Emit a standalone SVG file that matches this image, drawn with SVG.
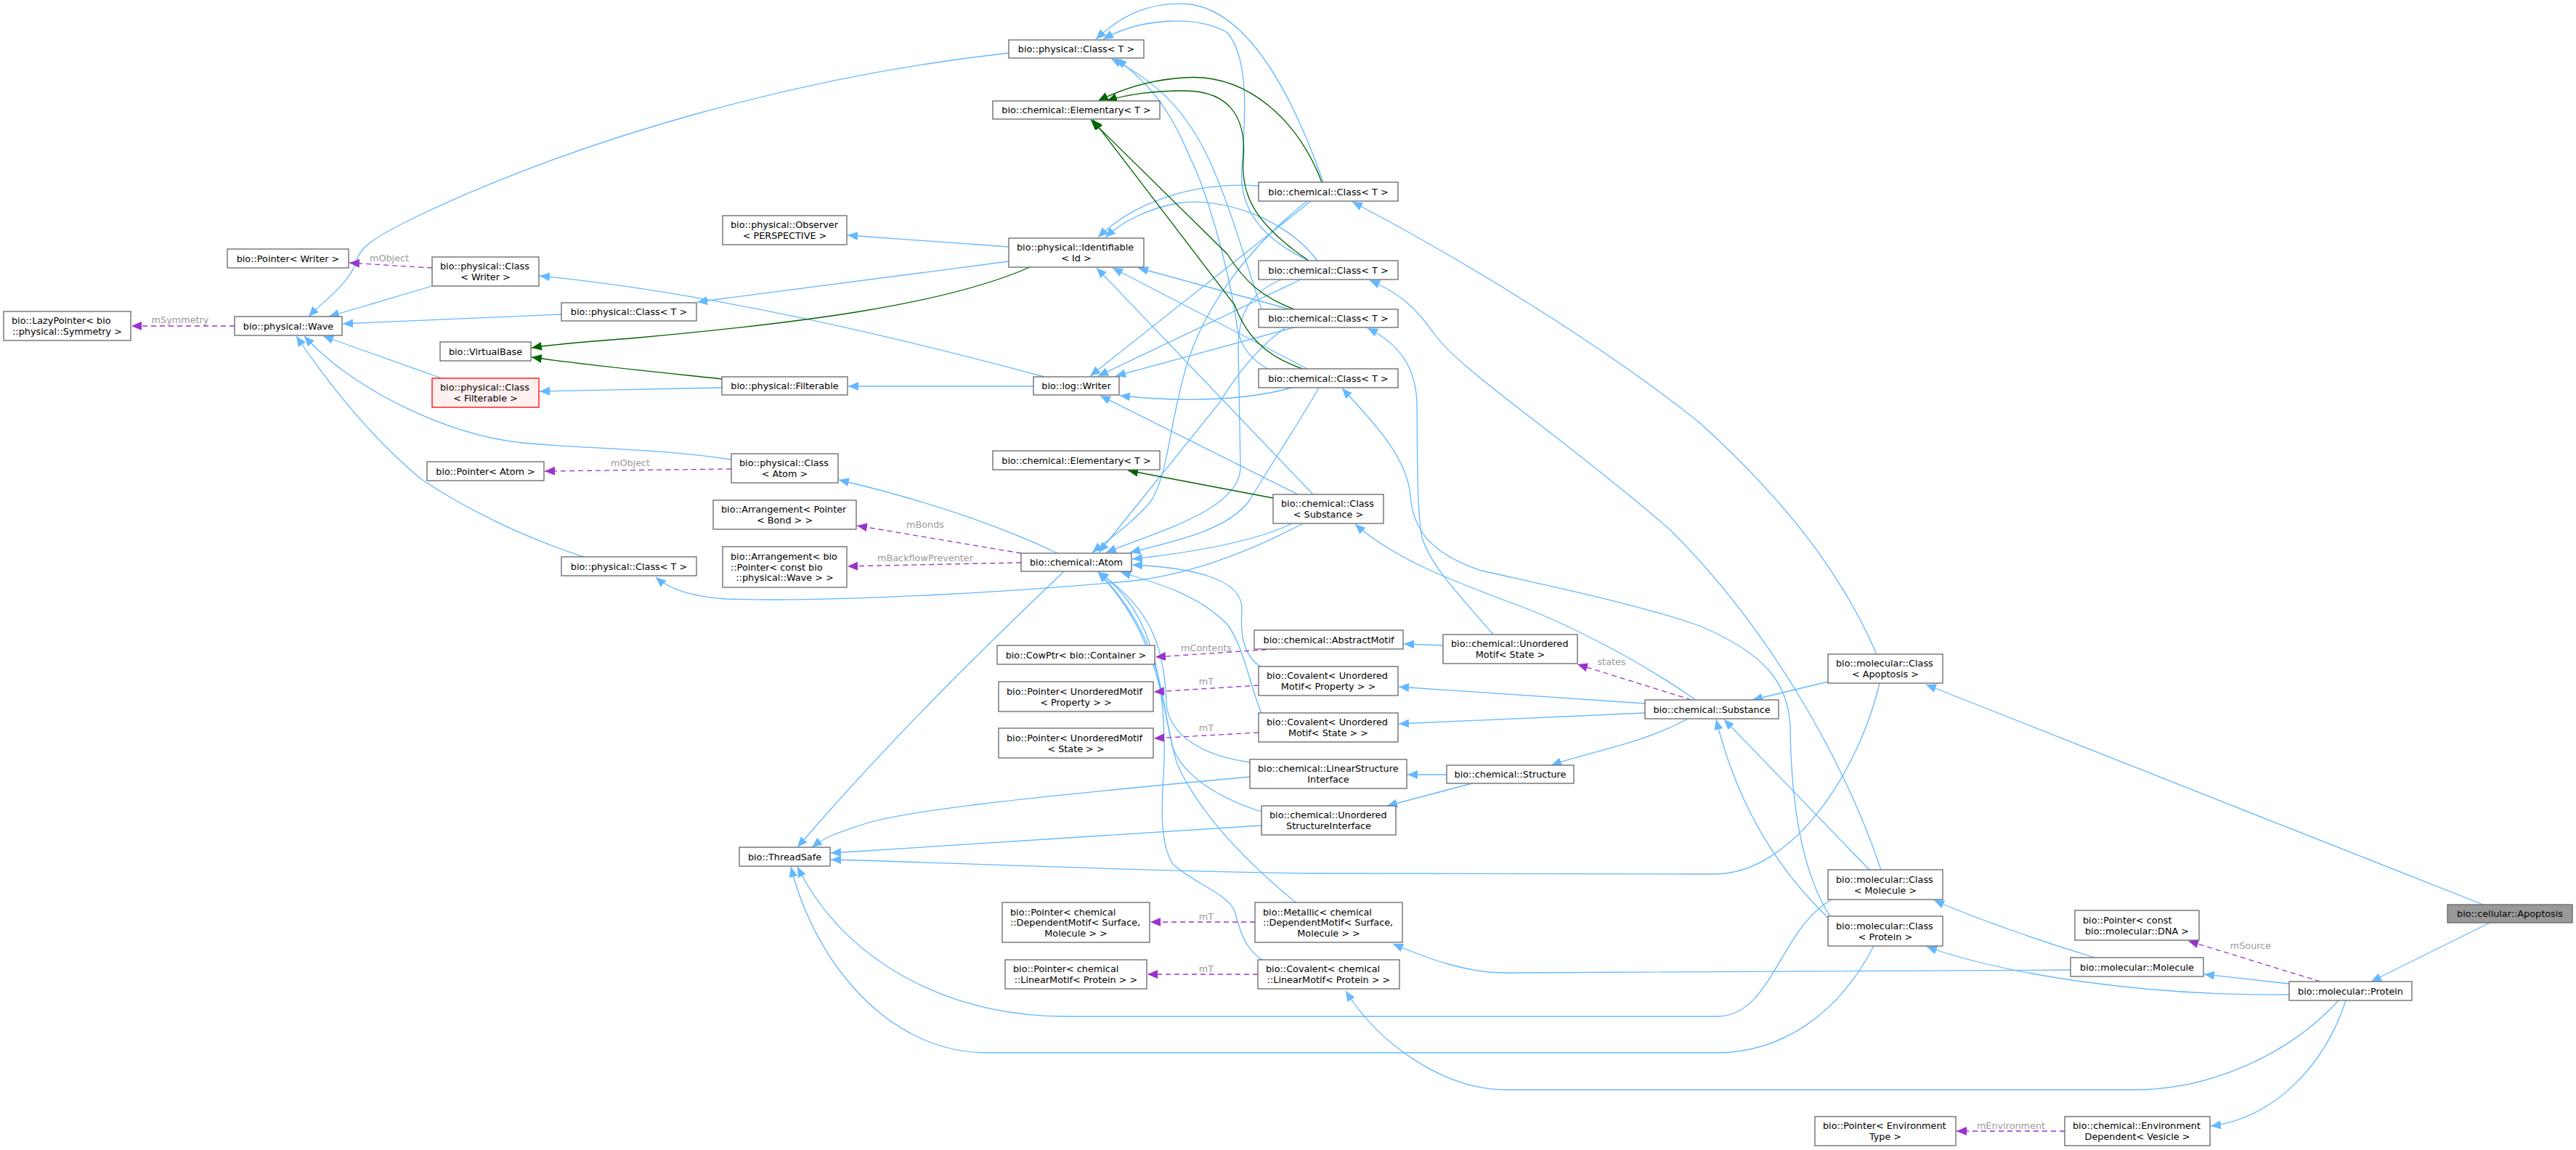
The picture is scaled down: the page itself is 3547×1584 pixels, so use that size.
<svg xmlns="http://www.w3.org/2000/svg" width="3547" height="1584" viewBox="0 0 3547 1584">
<style>
.n{fill:#fff;stroke:#666;stroke-width:1.3}
.r{fill:#fff0f0;stroke:#f00;stroke-width:1.3}
.g{fill:#999;stroke:#666;stroke-width:1.3}
text{font-family:"DejaVu Sans",sans-serif;font-size:12.8px;fill:#000}
.m{text-anchor:middle}
.s{text-anchor:start}
.eb{fill:none;stroke:#63b8ff;stroke-width:1.3;marker-end:url(#ab)}
.eg{fill:none;stroke:#006400;stroke-width:1.3;marker-end:url(#ag)}
.ep{fill:none;stroke:#9a32cd;stroke-width:1.3;stroke-dasharray:7,5;marker-end:url(#ap)}
.l{fill:#9a9a9a;text-anchor:middle}
</style>
<defs>
<marker id="ab" markerUnits="userSpaceOnUse" markerWidth="16" markerHeight="14" refX="14" refY="6" orient="auto"><path d="M0,0 L14,6 L0,12 z" fill="#63b8ff"/></marker>
<marker id="ag" markerUnits="userSpaceOnUse" markerWidth="16" markerHeight="14" refX="14" refY="6" orient="auto"><path d="M0,0 L14,6 L0,12 z" fill="#006400"/></marker>
<marker id="ap" markerUnits="userSpaceOnUse" markerWidth="16" markerHeight="14" refX="14" refY="6" orient="auto"><path d="M0,0 L14,6 L0,12 z" fill="#9a32cd"/></marker>
</defs>
<rect width="3547" height="1584" fill="#fff"/>
<g id="edges">
<path class="eb" d="M3419,1246 L2652,943"/>
<path class="eb" d="M3428,1271 L3265,1352"/>
<path class="eb" d="M3152,1355 L3035,1342"/>
<path class="eb" d="M3152,1370 C2950,1372 2760,1342 2653,1304"/>
<path class="eb" d="M2885,1319 C2820,1300 2720,1265 2663,1240"/>
<path class="eb" d="M2851,1336 L2074,1340 C2020,1340 1970,1322 1918,1300"/>
<path class="eb" d="M3220,1378 C3150,1455 3040,1501 2940,1501 L2074,1501 C1990,1501 1900,1440 1853,1365"/>
<path class="eb" d="M3230,1378 C3200,1470 3130,1540 3044,1551"/>
<path class="eb" d="M2580,1303 C2530,1400 2450,1450 2364,1450 L1359,1450 C1220,1450 1120,1320 1089,1194"/>
<path class="eb" d="M2522,1239 C2450,1280 2440,1400 2364,1400 L1468,1400 C1300,1400 1160,1320 1098,1194"/>
<path class="eb" d="M2588,941 C2560,1060 2470,1204 2360,1204 L1800,1203 C1500,1198 1250,1186 1144,1184"/>
<path class="eb" d="M2517,939 L2413,964"/>
<path class="eb" d="M2574,1198 L2374,991"/>
<path class="eb" d="M2517,1264 C2440,1190 2390,1100 2363,991"/>
<path class="eb" d="M2335,964 C2250,905 2150,855 2080,830 C2000,800 1920,770 1866,722"/>
<path class="eb" d="M2265,969 L1926,946"/>
<path class="eb" d="M2265,982 L1926,997"/>
<path class="eb" d="M2324,990 C2260,1025 2190,1035 2136,1054"/>
<path class="eb" d="M1992,1067 L1938,1067"/>
<path class="eb" d="M2027,1079 L1910,1110"/>
<path class="eb" d="M1987,889 L1933,887"/>
<path class="eb" d="M2056,874 C2010,820 1970,780 1958,740 C1950,700 1952,600 1951,556 C1950,510 1930,475 1883,452"/>
<path class="eb" d="M2584,901 C2540,800 2470,700 2340,582 C2200,470 2000,350 1862,278"/>
<path class="eb" d="M2590,1198 C2540,1050 2440,870 2300,730 C2150,600 2010,510 1975,460 C1950,425 1930,405 1886,386"/>
<path class="eb" d="M2520,1262 C2480,1200 2466,1100 2465,1000 C2462,940 2430,900 2340,862 C2250,830 2100,800 2040,786 C1960,760 1945,720 1942,683 C1938,630 1890,580 1848,535"/>
<path class="eb" d="M1822,251 C1790,160 1730,20 1640,6 C1580,0 1540,25 1509,54"/>
<path class="eb" d="M1802,359 C1740,330 1705,290 1710,230 C1715,160 1720,80 1690,45 C1650,20 1570,25 1519,54"/>
<path class="eb" d="M1737,426 C1715,360 1690,270 1660,210 C1630,150 1590,110 1530,81"/>
<path class="eb" d="M1745,508 C1715,490 1705,470 1702,440 C1690,360 1660,260 1640,220 C1615,160 1590,120 1537,81"/>
<path class="eb" d="M1733,256 C1640,250 1560,280 1512,327"/>
<path class="eb" d="M1814,359 C1770,300 1680,270 1620,280 C1580,288 1545,305 1522,327"/>
<path class="eb" d="M1776,426 L1567,369"/>
<path class="eb" d="M1800,508 L1532,369"/>
<path class="eb" d="M1808,681 L1510,369"/>
<path class="eb" d="M1805,277 L1501,518"/>
<path class="eb" d="M1791,385 L1512,518"/>
<path class="eb" d="M1782,451 L1536,518"/>
<path class="eb" d="M1779,534 C1720,550 1640,555 1542,545"/>
<path class="eb" d="M1787,681 L1515,545"/>
<path class="eb" d="M1800,277 C1720,340 1660,420 1635,500 C1610,580 1610,650 1585,690 C1560,720 1530,740 1504,761"/>
<path class="eb" d="M1770,451 C1730,480 1700,520 1679,555 L1513,761"/>
<path class="eb" d="M1765,385 C1715,405 1705,440 1705,480 L1708,640 C1712,700 1600,730 1523,761"/>
<path class="eb" d="M1816,534 C1790,580 1750,640 1720,690 C1690,730 1620,745 1556,761"/>
<path class="eb" d="M1779,721 C1730,745 1650,760 1559,770"/>
<path class="eb" d="M1794,721 C1740,750 1650,790 1560,800 C1400,815 1150,830 1000,825 C950,822 920,810 903,795"/>
<path class="eb" d="M1735,918 C1710,900 1708,870 1710,840 C1712,800 1650,782 1559,778"/>
<path class="eb" d="M1737,983 C1720,940 1712,890 1690,860 C1650,820 1600,805 1543,788"/>
<path class="eb" d="M1721,1050 C1650,1040 1610,1010 1606,970 C1604,900 1590,840 1512,788"/>
<path class="eb" d="M1737,1118 C1680,1100 1630,1070 1615,1030 C1600,980 1605,880 1512,788"/>
<path class="eb" d="M1784,1243 C1720,1190 1650,1120 1620,1050 C1600,980 1600,880 1512,788"/>
<path class="eb" d="M1738,1322 C1710,1305 1705,1270 1700,1255 C1690,1230 1640,1215 1615,1190 C1595,1160 1600,1100 1603,1050 C1605,950 1590,840 1512,788"/>
<path class="eb" d="M1456,762 C1400,735 1300,695 1155,661"/>
<path class="eb" d="M1465,787 C1400,850 1250,990 1098,1167"/>
<path class="eb" d="M1007,633 C900,617 800,618 720,610 C620,600 490,540 419,463"/>
<path class="eb" d="M608,521 L445,463"/>
<path class="eb" d="M804,767 C720,740 640,700 580,660 C520,610 460,540 408,463"/>
<path class="eb" d="M595,394 L453,436"/>
<path class="eb" d="M773,433 L472,446"/>
<path class="eb" d="M1389,73 C1100,105 800,190 570,300 C510,330 495,340 488,367 C475,395 445,415 425,436"/>
<path class="eb" d="M1389,340 L1167,324"/>
<path class="eb" d="M1389,360 L960,416"/>
<path class="eb" d="M1423,532 L1168,532"/>
<path class="eb" d="M1438,519 C1200,455 950,400 743,380"/>
<path class="eb" d="M994,534 L743,539"/>
<path class="eb" d="M1721,1070 C1450,1095 1250,1115 1190,1135 C1160,1145 1140,1150 1118,1167"/>
<path class="eb" d="M1737,1137 L1144,1175"/>
<path class="eg" d="M1820,251 C1790,170 1720,100 1630,107 C1580,110 1540,125 1512,139"/>
<path class="eg" d="M1802,359 C1730,310 1708,270 1712,220 C1716,170 1700,125 1630,125 C1590,125 1550,130 1524,139"/>
<path class="eg" d="M1782,426 C1740,410 1715,390 1690,350 L1502,165"/>
<path class="eg" d="M1794,508 C1740,490 1715,460 1700,420 L1505,165"/>
<path class="eg" d="M1753,686 L1553,648"/>
<path class="eg" d="M1418,368 C1300,420 1100,445 880,465 C820,470 770,473 732,479"/>
<path class="eg" d="M994,522 C900,512 800,502 732,492"/>
<path class="ep" d="M323,449 L181,449"/>
<path class="ep" d="M595,369 L481,362"/>
<path class="ep" d="M1007,646 L750,649"/>
<path class="ep" d="M1406,762 L1180,724"/>
<path class="ep" d="M1406,775 L1167,780"/>
<path class="ep" d="M1756,894 L1591,905"/>
<path class="ep" d="M1733,944 L1589,953"/>
<path class="ep" d="M1733,1009 L1589,1017"/>
<path class="ep" d="M1728,1270 L1584,1270"/>
<path class="ep" d="M1732,1342 L1580,1342"/>
<path class="ep" d="M2329,964 L2172,915"/>
<path class="ep" d="M3195,1352 L3013,1296"/>
<path class="ep" d="M2843,1558 L2694,1558"/>
<text class="l" x="248" y="445">mSymmetry</text>
<text class="l" x="536" y="360">mObject</text>
<text class="l" x="868" y="642">mObject</text>
<text class="l" x="1274" y="727">mBonds</text>
<text class="l" x="1274" y="773">mBackflowPreventer</text>
<text class="l" x="1661" y="897">mContents</text>
<text class="l" x="1661" y="943">mT</text>
<text class="l" x="1661" y="1007">mT</text>
<text class="l" x="1661" y="1267">mT</text>
<text class="l" x="1661" y="1339">mT</text>
<text class="l" x="2219" y="916">states</text>
<text class="l" x="3099" y="1307">mSource</text>
<text class="l" x="2769" y="1555">mEnvironment</text>
</g>
<g id="n_apoptosis"><rect class="g" x="3370" y="1246" width="172" height="25"/><text class="m" x="3456" y="1263">bio::cellular::Apoptosis</text></g>
<g id="n_mclass_apoptosis"><rect class="n" x="2517" y="901" width="158" height="40"/><text class="s" x="2528" y="918">bio::molecular::Class</text><text class="m" x="2596" y="933">&lt; Apoptosis &gt;</text></g>
<g id="n_protein"><rect class="n" x="3152" y="1352" width="169" height="26"/><text class="m" x="3236.5" y="1369.5">bio::molecular::Protein</text></g>
<g id="n_mclass_molecule"><rect class="n" x="2517" y="1198" width="158" height="41"/><text class="s" x="2528" y="1215.5">bio::molecular::Class</text><text class="m" x="2596" y="1230.5">&lt; Molecule &gt;</text></g>
<g id="n_mclass_protein"><rect class="n" x="2517" y="1262" width="158" height="41"/><text class="s" x="2528" y="1279.5">bio::molecular::Class</text><text class="m" x="2596" y="1294.5">&lt; Protein &gt;</text></g>
<g id="n_molecule"><rect class="n" x="2851" y="1319" width="183" height="26"/><text class="m" x="2942.5" y="1336.5">bio::molecular::Molecule</text></g>
<g id="n_ptr_dna"><rect class="n" x="2857" y="1254" width="171" height="41"/><text class="s" x="2868" y="1271.5">bio::Pointer&lt; const</text><text class="m" x="2942.5" y="1286.5">bio::molecular::DNA &gt;</text></g>
<g id="n_envdep"><rect class="n" x="2843" y="1538" width="200" height="40"/><text class="s" x="2854" y="1555">bio::chemical::Environment</text><text class="m" x="2943" y="1570">Dependent&lt; Vesicle &gt;</text></g>
<g id="n_ptr_env"><rect class="n" x="2499" y="1538" width="194" height="40"/><text class="s" x="2510" y="1555">bio::Pointer&lt; Environment</text><text class="m" x="2596" y="1570">Type &gt;</text></g>
<g id="n_substance"><rect class="n" x="2265" y="964" width="184" height="26"/><text class="m" x="2357" y="981.5">bio::chemical::Substance</text></g>
<g id="n_umotif_state"><rect class="n" x="1987" y="874" width="185" height="40"/><text class="s" x="1998" y="891">bio::chemical::Unordered</text><text class="m" x="2079.5" y="906">Motif&lt; State &gt;</text></g>
<g id="n_structure"><rect class="n" x="1992" y="1054" width="175" height="25"/><text class="m" x="2079.5" y="1071">bio::chemical::Structure</text></g>
<g id="n_cclass1"><rect class="n" x="1733" y="251" width="192" height="26"/><text class="m" x="1829" y="268.5">bio::chemical::Class&lt; T &gt;</text></g>
<g id="n_cclass2"><rect class="n" x="1733" y="359" width="192" height="26"/><text class="m" x="1829" y="376.5">bio::chemical::Class&lt; T &gt;</text></g>
<g id="n_cclass3"><rect class="n" x="1733" y="426" width="192" height="25"/><text class="m" x="1829" y="443">bio::chemical::Class&lt; T &gt;</text></g>
<g id="n_cclass4"><rect class="n" x="1733" y="508" width="192" height="26"/><text class="m" x="1829" y="525.5">bio::chemical::Class&lt; T &gt;</text></g>
<g id="n_cclass_substance"><rect class="n" x="1753" y="681" width="152" height="40"/><text class="s" x="1764" y="698">bio::chemical::Class</text><text class="m" x="1829" y="713">&lt; Substance &gt;</text></g>
<g id="n_abstractmotif"><rect class="n" x="1727" y="868" width="205" height="26"/><text class="m" x="1829.5" y="885.5">bio::chemical::AbstractMotif</text></g>
<g id="n_cov_ump"><rect class="n" x="1733" y="918" width="192" height="40"/><text class="s" x="1744" y="935">bio::Covalent&lt; Unordered</text><text class="m" x="1829" y="950">Motif&lt; Property &gt; &gt;</text></g>
<g id="n_cov_ums"><rect class="n" x="1733" y="982" width="192" height="40"/><text class="s" x="1744" y="999">bio::Covalent&lt; Unordered</text><text class="m" x="1829" y="1014">Motif&lt; State &gt; &gt;</text></g>
<g id="n_lsi"><rect class="n" x="1721" y="1046" width="216" height="40"/><text class="s" x="1732" y="1063">bio::chemical::LinearStructure</text><text class="m" x="1829" y="1078">Interface</text></g>
<g id="n_usi"><rect class="n" x="1737" y="1110" width="185" height="40"/><text class="s" x="1748" y="1127">bio::chemical::Unordered</text><text class="m" x="1829.5" y="1142">StructureInterface</text></g>
<g id="n_metallic"><rect class="n" x="1728" y="1243" width="203" height="55"/><text class="s" x="1739" y="1260.5">bio::Metallic&lt; chemical</text><text class="s" x="1739" y="1275">::DependentMotif&lt; Surface,</text><text class="m" x="1829.5" y="1290">Molecule &gt; &gt;</text></g>
<g id="n_cov_lm"><rect class="n" x="1732" y="1322" width="195" height="40"/><text class="s" x="1743" y="1339">bio::Covalent&lt; chemical</text><text class="m" x="1829.5" y="1354">::LinearMotif&lt; Protein &gt; &gt;</text></g>
<g id="n_pclass1"><rect class="n" x="1389" y="55" width="186" height="25"/><text class="m" x="1482" y="72">bio::physical::Class&lt; T &gt;</text></g>
<g id="n_elem1"><rect class="n" x="1367" y="139" width="230" height="25"/><text class="m" x="1482" y="156">bio::chemical::Elementary&lt; T &gt;</text></g>
<g id="n_identifiable"><rect class="n" x="1389" y="328" width="186" height="40"/><text class="s" x="1400" y="345">bio::physical::Identifiable</text><text class="m" x="1482" y="360">&lt; Id &gt;</text></g>
<g id="n_logwriter"><rect class="n" x="1423" y="519" width="118" height="25"/><text class="m" x="1482" y="536">bio::log::Writer</text></g>
<g id="n_elem2"><rect class="n" x="1367" y="621" width="230" height="26"/><text class="m" x="1482" y="638.5">bio::chemical::Elementary&lt; T &gt;</text></g>
<g id="n_atom"><rect class="n" x="1406" y="762" width="152" height="25"/><text class="m" x="1482" y="779">bio::chemical::Atom</text></g>
<g id="n_cowptr"><rect class="n" x="1373" y="889" width="217" height="26"/><text class="m" x="1481.5" y="906.5">bio::CowPtr&lt; bio::Container &gt;</text></g>
<g id="n_ptr_ump"><rect class="n" x="1375" y="939" width="213" height="41"/><text class="s" x="1386" y="956.5">bio::Pointer&lt; UnorderedMotif</text><text class="m" x="1481.5" y="971.5">&lt; Property &gt; &gt;</text></g>
<g id="n_ptr_ums"><rect class="n" x="1375" y="1003" width="213" height="41"/><text class="s" x="1386" y="1020.5">bio::Pointer&lt; UnorderedMotif</text><text class="m" x="1481.5" y="1035.5">&lt; State &gt; &gt;</text></g>
<g id="n_ptr_dm"><rect class="n" x="1380" y="1243" width="203" height="55"/><text class="s" x="1391" y="1260.5">bio::Pointer&lt; chemical</text><text class="s" x="1391" y="1275">::DependentMotif&lt; Surface,</text><text class="m" x="1481.5" y="1290">Molecule &gt; &gt;</text></g>
<g id="n_ptr_lm"><rect class="n" x="1384" y="1322" width="195" height="40"/><text class="s" x="1395" y="1339">bio::Pointer&lt; chemical</text><text class="m" x="1481.5" y="1354">::LinearMotif&lt; Protein &gt; &gt;</text></g>
<g id="n_observer"><rect class="n" x="995" y="297" width="171" height="40"/><text class="s" x="1006" y="314">bio::physical::Observer</text><text class="m" x="1080.5" y="329">&lt; PERSPECTIVE &gt;</text></g>
<g id="n_pclass_atom"><rect class="n" x="1007" y="625" width="147" height="40"/><text class="s" x="1018" y="642">bio::physical::Class</text><text class="m" x="1080.5" y="657">&lt; Atom &gt;</text></g>
<g id="n_arr_bond"><rect class="n" x="982" y="689" width="197" height="40"/><text class="s" x="993" y="706">bio::Arrangement&lt; Pointer</text><text class="m" x="1080.5" y="721">&lt; Bond &gt; &gt;</text></g>
<g id="n_arr_wave"><rect class="n" x="995" y="753" width="171" height="56"/><text class="s" x="1006" y="771">bio::Arrangement&lt; bio</text><text class="s" x="1006" y="785.5">::Pointer&lt; const bio</text><text class="m" x="1080.5" y="800">::physical::Wave &gt; &gt;</text></g>
<g id="n_threadsafe"><rect class="n" x="1018" y="1167" width="125" height="26"/><text class="m" x="1080.5" y="1184.5">bio::ThreadSafe</text></g>
<g id="n_pclass_writer"><rect class="n" x="595" y="354" width="147" height="40"/><text class="s" x="606" y="371">bio::physical::Class</text><text class="m" x="668.5" y="386">&lt; Writer &gt;</text></g>
<g id="n_pclass2"><rect class="n" x="773" y="417" width="186" height="25"/><text class="m" x="866" y="434">bio::physical::Class&lt; T &gt;</text></g>
<g id="n_virtualbase"><rect class="n" x="606" y="471" width="125" height="26"/><text class="m" x="668.5" y="488.5">bio::VirtualBase</text></g>
<g id="n_filterable"><rect class="n" x="994" y="519" width="173" height="25"/><text class="m" x="1080.5" y="536">bio::physical::Filterable</text></g>
<g id="n_pclass_filterable"><rect class="r" x="595" y="521" width="147" height="40"/><text class="s" x="606" y="538">bio::physical::Class</text><text class="m" x="668.5" y="553">&lt; Filterable &gt;</text></g>
<g id="n_wave"><rect class="n" x="323" y="436" width="148" height="26"/><text class="m" x="397" y="453.5">bio::physical::Wave</text></g>
<g id="n_ptr_writer"><rect class="n" x="313" y="343" width="167" height="26"/><text class="m" x="396.5" y="360.5">bio::Pointer&lt; Writer &gt;</text></g>
<g id="n_lazyptr"><rect class="n" x="5" y="429" width="175" height="40"/><text class="s" x="16" y="446">bio::LazyPointer&lt; bio</text><text class="m" x="92.5" y="461">::physical::Symmetry &gt;</text></g>
<g id="n_ptr_atom"><rect class="n" x="588" y="636" width="161" height="26"/><text class="m" x="668.5" y="653.5">bio::Pointer&lt; Atom &gt;</text></g>
<g id="n_pclass3"><rect class="n" x="773" y="767" width="186" height="26"/><text class="m" x="866" y="784.5">bio::physical::Class&lt; T &gt;</text></g>
</svg>
